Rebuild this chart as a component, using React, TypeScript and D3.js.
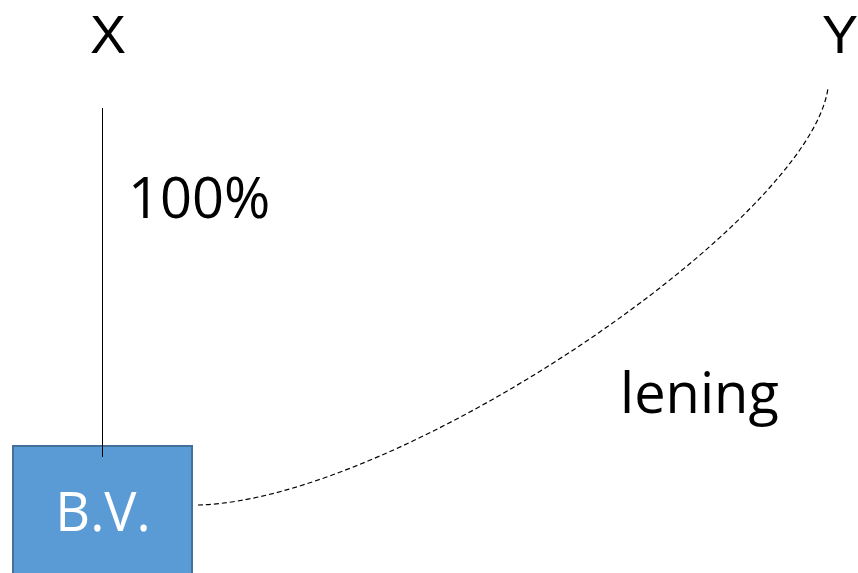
import React, { useEffect, useRef } from "react";
import * as d3 from "d3";

// labels and their anchor positions
const labels = ["X", "Y", "100%", "lening"];
const labelX = [108, 840, 128, 620];
const labelY = [53, 53, 218, 413];
const labelAnchor = ["middle", "middle", "start", "start"];

const boxLabel = "B.V.";

// dashed loan curve from the B.V. box up to Y: start, two control points, end
const curveStart: [number, number] = [198, 505];
const curveCtrl1: [number, number] = [400, 500];
const curveCtrl2: [number, number] = [810, 220];
const curveEnd: [number, number] = [828, 88];

export default function App() {
	const ref = useRef<SVGSVGElement>(null);

	useEffect(() => {
		const width = 858;
		const height = 573;
		const svg = d3.select(ref.current);
		svg.selectAll("*").remove();
		svg.attr("width", width).attr("height", height);

		const font = "'Open Sans', 'Liberation Sans', sans-serif";
		const headFont = "'Liberation Sans', Arial, sans-serif";

		// the box
		svg
			.append("rect")
			.attr("x", 13)
			.attr("y", 446)
			.attr("width", 179)
			.attr("height", 140)
			.attr("fill", "#5B9BD5")
			.attr("stroke", "#41719C")
			.attr("stroke-width", 2);

		// ownership line X -> B.V. (runs a little into the box)
		svg
			.append("line")
			.attr("x1", 102.5)
			.attr("x2", 102.5)
			.attr("y1", 108)
			.attr("y2", 457)
			.attr("stroke", "#000")
			.attr("stroke-width", 1);

		svg
			.append("text")
			.attr("x", 103)
			.attr("y", 531)
			.attr("text-anchor", "middle")
			.attr("font-family", font)
			.attr("font-size", 54)
			.attr("fill", "#fff")
			.text(boxLabel);

		// loan curve
		const p = d3.path();
		p.moveTo(curveStart[0], curveStart[1]);
		p.bezierCurveTo(curveCtrl1[0], curveCtrl1[1], curveCtrl2[0], curveCtrl2[1], curveEnd[0], curveEnd[1]);

		svg
			.append("path")
			.attr("d", p.toString())
			.attr("fill", "none")
			.attr("stroke", "#000")
			.attr("stroke-width", 1.2)
			.attr("stroke-dasharray", "5,3");

		svg
			.selectAll(".lbl")
			.data(labels)
			.enter()
			.append("text")
			.attr("class", "lbl")
			.attr("x", (d, i) => labelX[i])
			.attr("y", (d, i) => labelY[i])
			.attr("text-anchor", (d, i) => labelAnchor[i])
			.attr("font-family", (d, i) => (i < 2 ? headFont : font))
			.attr("font-size", (d, i) => (i < 2 ? 54 : 56))
			.attr("fill", "#000")
			.text((d) => d);
	}, []);

	return (
		<div style={{ position: "absolute", left: 0, top: 0, background: "#fff" }}>
			<svg ref={ref} style={{ display: "block" }} />
		</div>
	);
}
